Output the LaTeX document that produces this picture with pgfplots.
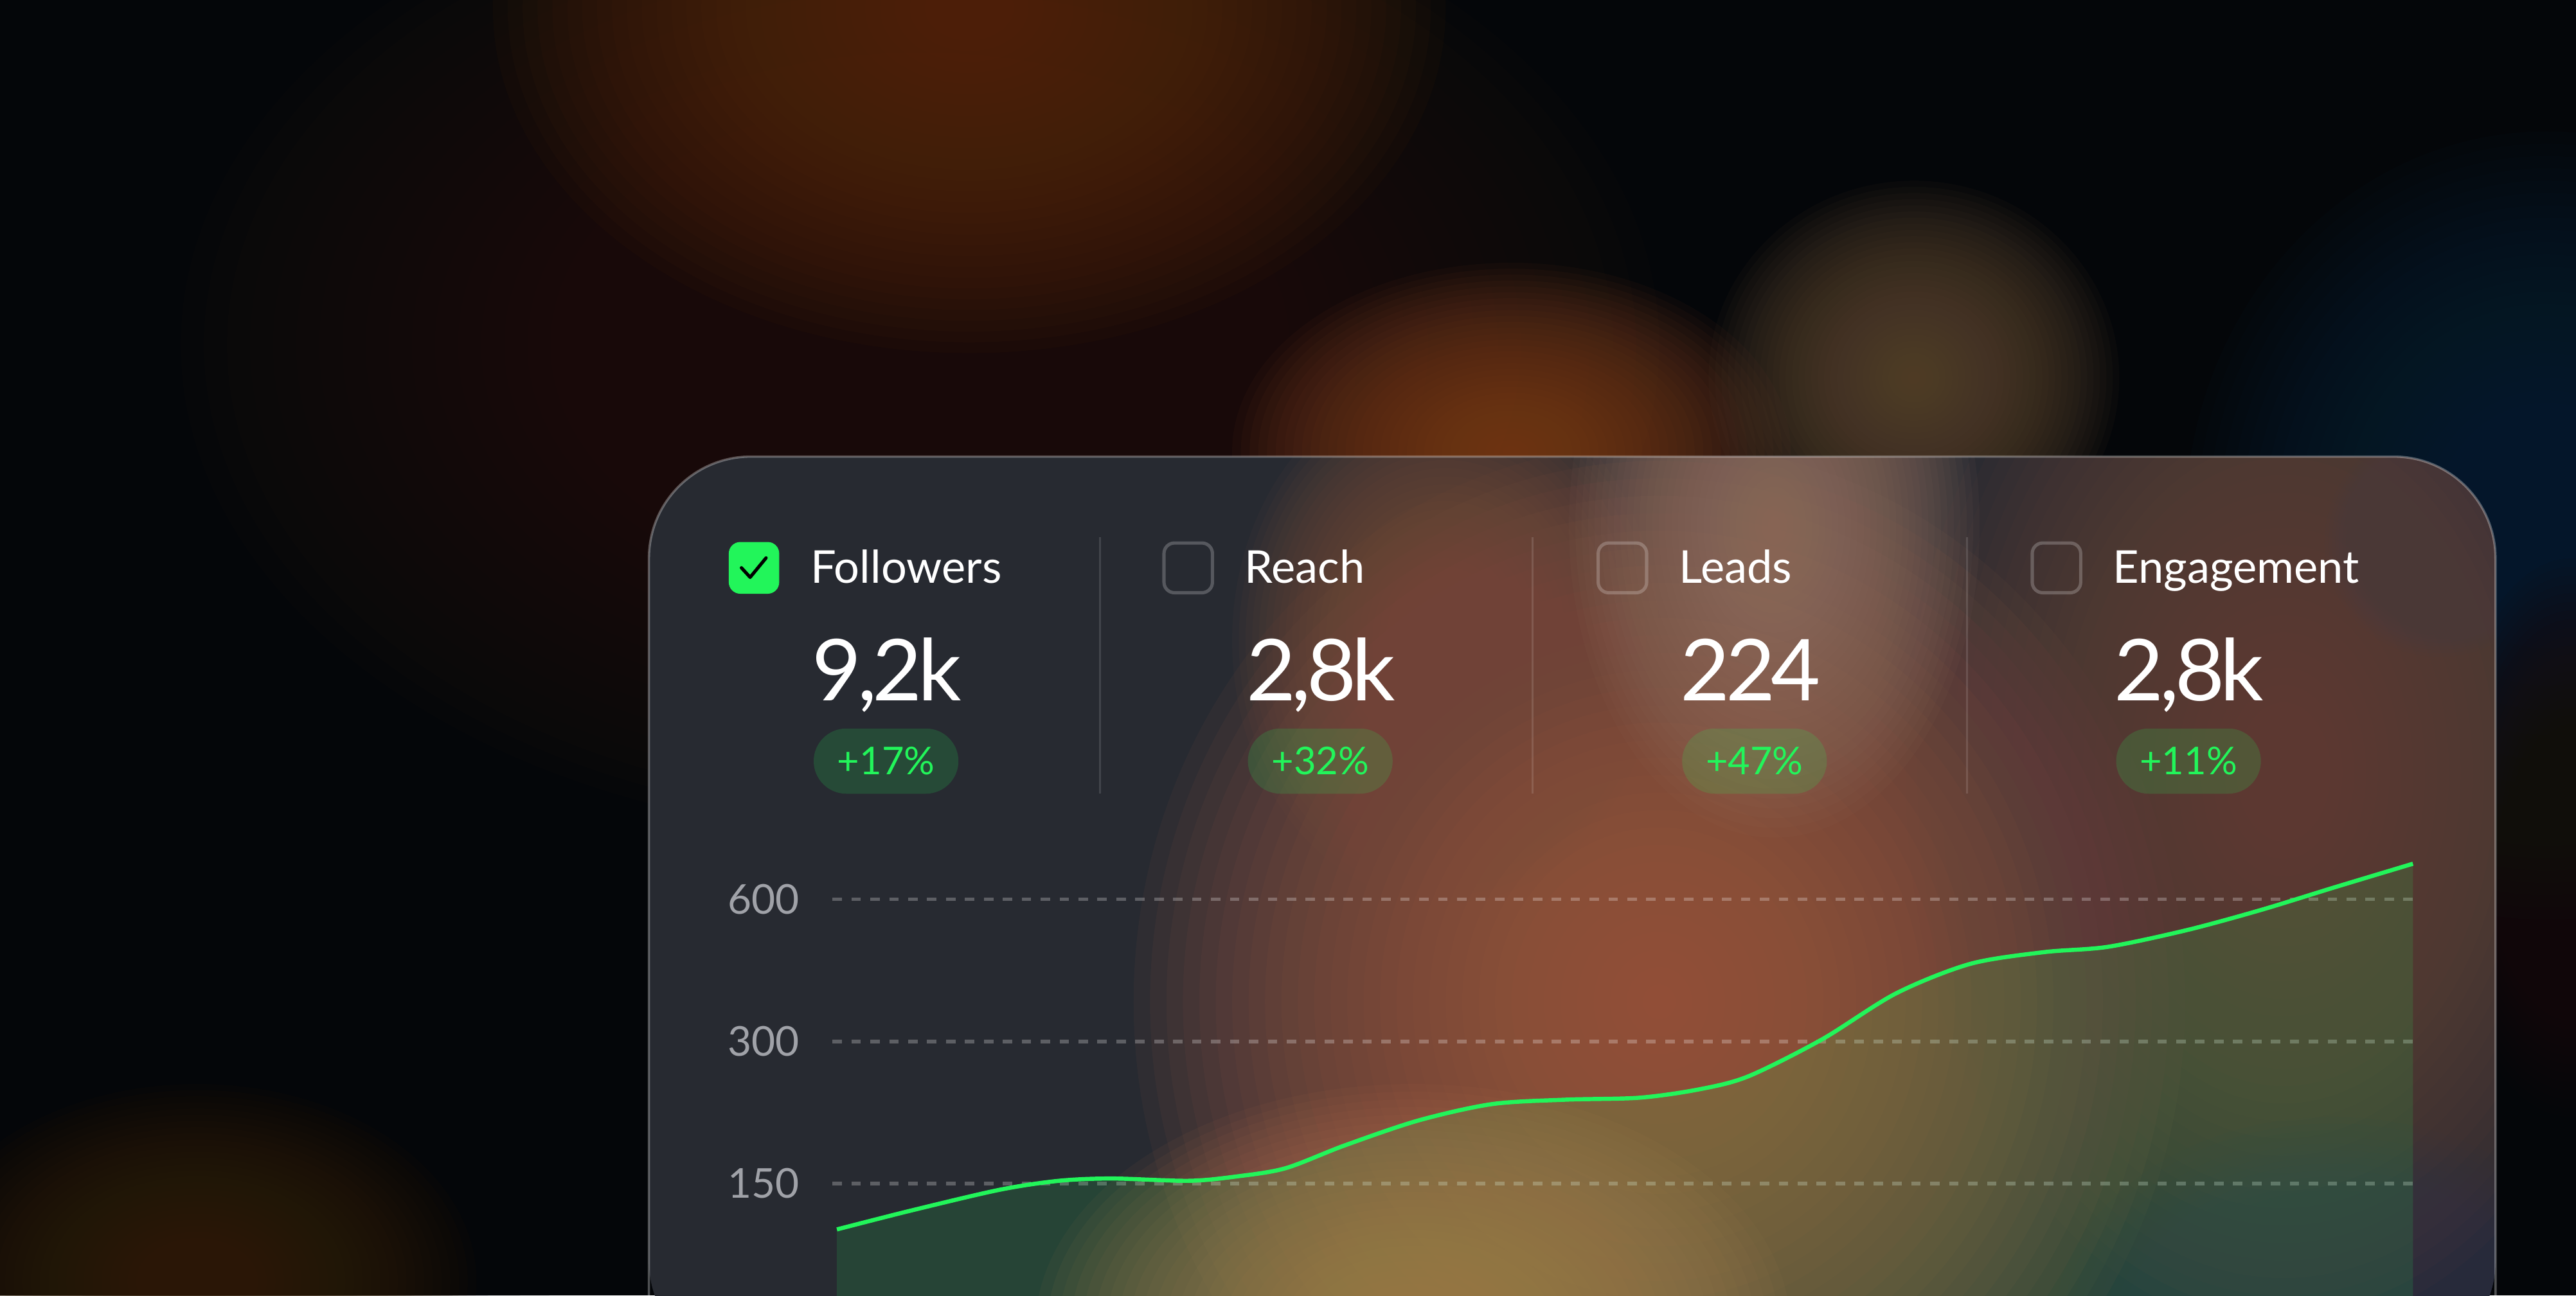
\documentclass[border=0pt]{standalone}
\usepackage{fontspec}
\setmainfont{Lato}
\usepackage{pgfplots}
\usepackage{pgfplotstable}
\pgfplotsset{compat=1.18}
\definecolor{grn}{HTML}{22F55A}
\definecolor{bgc}{HTML}{040609}
\definecolor{cardc}{HTML}{272A31}
\definecolor{tickc}{HTML}{A0A2A8}
\definecolor{g1}{HTML}{5A2C08}
\definecolor{g2}{HTML}{26170C}
\definecolor{g3}{HTML}{80401F}
\definecolor{g4}{HTML}{5E4832}
\definecolor{g5}{HTML}{0E2438}
\definecolor{g6}{HTML}{3A2606}
\definecolor{g7}{HTML}{1E0E0A}
\definecolor{g8}{HTML}{080C14}
\definecolor{c1}{HTML}{A45C45}
\definecolor{c2}{HTML}{957262}
\definecolor{c3}{HTML}{B8714D}
\definecolor{c4}{HTML}{6A4638}
\definecolor{c5}{HTML}{4A3C44}
\definecolor{c6}{HTML}{343848}
\definecolor{c7}{HTML}{7E5040}
% soft glow: 32 stacked ellipses of low opacity
\newcommand\blob[6]{\foreach \k in {32,31,...,1}{\fill[#5, fill opacity=#6] (#1,#2) ellipse ({#3*\k/32} and {#4*\k/32});}}
\pgfplotstableread{
x y
509.4 119.9
554.7 131.5
608.5 145.5
644.5 152.0
676.8 153.7
723.5 152.0
752.3 155.2
782.4 161.6
818.4 180.6
863.3 204.0
908.2 221.0
953.0 225.8
998.0 228.0
1034.0 237.4
1064.1 253.0
1109.0 303.0
1153.9 379.0
1198.9 437.7
1243.8 463.7
1283.0 476.0
1331.2 516.6
1376.1 569.7
1421.1 636.5
1468.7 714.0
}\followers
\newcommand\lab[1]{\fontsize{19.6}{22}\selectfont #1}
\newcommand\bignum[1]{\fontsize{37}{40}\selectfont\addfontfeatures{LetterSpace=-5}#1}
\newcommand\pilltext[1]{\fontsize{16.6}{19}\selectfont #1}
\begin{document}
\begin{tikzpicture}
\begin{scope}[x=0.25mm,y=-0.25mm]
\useasboundingbox (0,0) rectangle (1568,788.7);
\clip (0,0) rectangle (1568,788.7);
\fill[bgc] (0,0) rectangle (1568,788.7);
% background glows
\blob{150}{560}{320}{280}{g8}{0.065}
\blob{560}{210}{450}{300}{g2}{0.065}
\blob{590}{5}{290}{210}{g1}{0.065}
\blob{920}{275}{170}{115}{g3}{0.065}
\blob{1165}{230}{125}{120}{g4}{0.065}
\blob{1550}{320}{220}{240}{g5}{0.065}
\blob{1565}{510}{80}{170}{g7}{0.065}
\blob{120}{780}{170}{120}{g6}{0.06}
% card interior
\begin{scope}
\clip[rounded corners=15.5mm] (395,830) -- (395,278) -- (1519,278) -- (1519,830) -- cycle;
\fill[cardc] (380,260) rectangle (1540,800);
\blob{1010}{610}{320}{340}{c1}{0.07}
\blob{880}{390}{130}{160}{c7}{0.065}
\blob{1390}{470}{230}{340}{c4}{0.065}
\blob{1080}{320}{125}{190}{c2}{0.065}
\blob{860}{810}{230}{150}{c3}{0.065}
\blob{1485}{330}{70}{70}{c5}{0.065}
\blob{1420}{810}{170}{130}{c6}{0.065}
\end{scope}
\draw[white, opacity=0.3, line width=0.35mm, rounded corners=15.5mm] (395,830) -- (395,278) -- (1519,278) -- (1519,830);
% separators
\foreach \sx in {669.4,933,1197.2}{\draw[white, opacity=0.13, line width=0.3mm] (\sx,327) -- (\sx,483);}
% checkbox 1
\fill[grn, rounded corners=1.75mm] (443.6,330) rectangle (474.3,361.5);
\draw[black, line width=0.5mm, line cap=round, line join=round] (451.3,345.7) -- (456.6,351.5) -- (466.3,339.7);
\foreach \cx in {707.9,972.2,1236.4}{\draw[white, opacity=0.22, line width=0.5mm, rounded corners=1.6mm] (\cx+0.6,330.6) rectangle (\cx+30.1,360.9);}
% labels
\node[anchor=base west, inner sep=0pt, text=white] at (493.1,355.2) {\lab{Followers}};
\node[anchor=base west, inner sep=0pt, text=white] at (757.4,355.2) {\lab{Reach}};
\node[anchor=base west, inner sep=0pt, text=white] at (1021.7,355.2) {\lab{Leads}};
\node[anchor=base west, inner sep=0pt, text=white] at (1285.9,355.2) {\lab{Engagement}};
% numbers
\node[anchor=base west, inner sep=0pt, text=white] at (494,426.6) {\bignum{9,2k}};
\node[anchor=base west, inner sep=0pt, text=white] at (758.3,426.6) {\bignum{2,8k}};
\node[anchor=base west, inner sep=0pt, text=white] at (1022.6,426.6) {\bignum{224}};
\node[anchor=base west, inner sep=0pt, text=white] at (1286.8,426.6) {\bignum{2,8k}};
% pills
\foreach \cx/\t in {443.6/+17\%,707.9/+32\%,972.2/+47\%,1236.4/+11\%}{
\node[anchor=west, fill=grn, fill opacity=0.16, text opacity=1, text=grn, rounded corners=4.96mm, minimum height=9.925mm, inner xsep=3.6mm, inner ysep=0pt] at (\cx+51.4,463.4) {\pilltext{\t}};}
\end{scope}
% chart
\begin{axis}[at={(126.675mm,-197.175mm)}, anchor=south west, scale only axis,
 width=240.7mm, height=72.175mm,
 xmin=506.7, xmax=1469.5, ymode=log, ymin=86.9, ymax=878.6,
 axis line style={draw=none}, xtick=\empty,
 ytick={150,300,600}, yticklabels={150,300,600},
 major tick length=0pt, ymajorgrids,
 grid style={white, opacity=0.25, line width=0.54mm, dash pattern=on 1.44mm off 1.44mm},
 yticklabel style={anchor=east, inner sep=0pt, xshift=-4.93mm, font=\fontsize{17.8}{20}\selectfont, text=tickc},
 /pgf/number format/assume math mode=true]
\addplot[draw=none, fill=grn, fill opacity=0.13, smooth] table[x=x,y=y]{\followers} \closedcycle;
\addplot[grn, line width=0.63mm, smooth] table[x=x,y=y]{\followers};
\end{axis}
\end{tikzpicture}
\end{document}
